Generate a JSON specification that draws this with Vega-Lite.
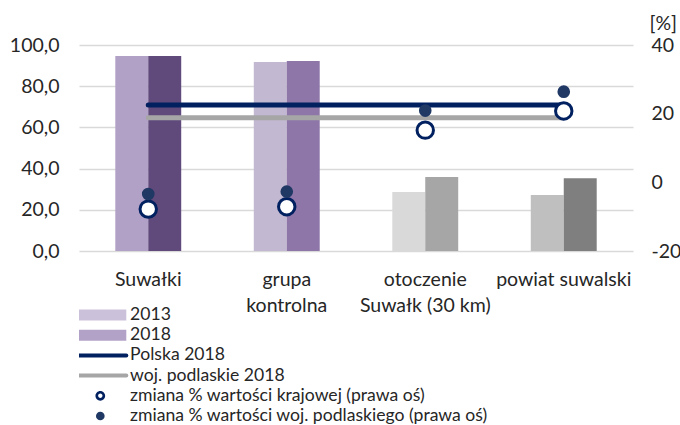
{
  "$schema": "https://vega.github.io/schema/vega-lite/v6.json",
  "width": 554,
  "height": 206,
  "autosize": {"type": "none"},
  "padding": {"left": 79, "top": 45, "right": 47, "bottom": 174},
  "background": "white",
  "config": {
    "view": {"stroke": null},
    "font": "Lato",
    "axis": {"labelFont": "Lato", "titleFont": "Lato", "labelColor": "#262626", "titleColor": "#262626"}
  },
  "datasets": {
    "slupki": [
      {"kategoria": "Suwałki", "rok": "2013", "seria": "Suwałki 2013", "wartosc": 94.7},
      {"kategoria": "Suwałki", "rok": "2018", "seria": "Suwałki 2018", "wartosc": 94.7},
      {"kategoria": "grupa kontrolna", "rok": "2013", "seria": "grupa kontrolna 2013", "wartosc": 91.7},
      {"kategoria": "grupa kontrolna", "rok": "2018", "seria": "grupa kontrolna 2018", "wartosc": 92.2},
      {"kategoria": "otoczenie Suwałk (30 km)", "rok": "2013", "seria": "otoczenie Suwałk (30 km) 2013", "wartosc": 28.6},
      {"kategoria": "otoczenie Suwałk (30 km)", "rok": "2018", "seria": "otoczenie Suwałk (30 km) 2018", "wartosc": 35.9},
      {"kategoria": "powiat suwalski", "rok": "2013", "seria": "powiat suwalski 2013", "wartosc": 27.2},
      {"kategoria": "powiat suwalski", "rok": "2018", "seria": "powiat suwalski 2018", "wartosc": 35.3}
    ],
    "linie": [
      {"kategoria": "Suwałki", "seria": "woj. podlaskie 2018", "wartosc": 64.7},
      {"kategoria": "grupa kontrolna", "seria": "woj. podlaskie 2018", "wartosc": 64.7},
      {"kategoria": "otoczenie Suwałk (30 km)", "seria": "woj. podlaskie 2018", "wartosc": 64.7},
      {"kategoria": "powiat suwalski", "seria": "woj. podlaskie 2018", "wartosc": 64.7},
      {"kategoria": "Suwałki", "seria": "Polska 2018", "wartosc": 70.9},
      {"kategoria": "grupa kontrolna", "seria": "Polska 2018", "wartosc": 70.9},
      {"kategoria": "otoczenie Suwałk (30 km)", "seria": "Polska 2018", "wartosc": 70.9},
      {"kategoria": "powiat suwalski", "seria": "Polska 2018", "wartosc": 70.9}
    ],
    "zmiany": [
      {"kategoria": "Suwałki", "seria": "zmiana % wartości krajowej (prawa oś)", "zmiana": -7.8},
      {"kategoria": "grupa kontrolna", "seria": "zmiana % wartości krajowej (prawa oś)", "zmiana": -7.1},
      {"kategoria": "otoczenie Suwałk (30 km)", "seria": "zmiana % wartości krajowej (prawa oś)", "zmiana": 15.2},
      {"kategoria": "powiat suwalski", "seria": "zmiana % wartości krajowej (prawa oś)", "zmiana": 20.8},
      {"kategoria": "Suwałki", "seria": "zmiana % wartości woj. podlaskiego (prawa oś)", "zmiana": -3.4},
      {"kategoria": "grupa kontrolna", "seria": "zmiana % wartości woj. podlaskiego (prawa oś)", "zmiana": -2.7},
      {"kategoria": "otoczenie Suwałk (30 km)", "seria": "zmiana % wartości woj. podlaskiego (prawa oś)", "zmiana": 20.9},
      {"kategoria": "powiat suwalski", "seria": "zmiana % wartości woj. podlaskiego (prawa oś)", "zmiana": 26.4}
    ]
  },
  "encoding": {
    "x": {
      "field": "kategoria",
      "type": "nominal",
      "sort": ["Suwałki", "grupa kontrolna", "otoczenie Suwałk (30 km)", "powiat suwalski"],
      "scale": {"paddingInner": 0.524, "paddingOuter": 0.262},
      "axis": {
        "title": null,
        "labelAngle": 0,
        "domain": false,
        "ticks": false,
        "labelFontSize": 19.5,
        "labelPadding": 19,
        "labelLineHeight": 26,
        "labelLimit": 300,
        "labelExpr": "datum.label == 'grupa kontrolna' ? ['grupa', 'kontrolna'] : datum.label == 'otoczenie Suwałk (30 km)' ? ['otoczenie', 'Suwałk (30 km)'] : datum.label"
      }
    },
    "color": {
      "field": "seria",
      "type": "nominal",
      "scale": {
        "domain": ["2013", "2018", "Polska 2018", "woj. podlaskie 2018", "zmiana % wartości krajowej (prawa oś)", "zmiana % wartości woj. podlaskiego (prawa oś)", "Suwałki 2013", "Suwałki 2018", "grupa kontrolna 2013", "grupa kontrolna 2018", "otoczenie Suwałk (30 km) 2013", "otoczenie Suwałk (30 km) 2018", "powiat suwalski 2013", "powiat suwalski 2018"],
        "range": ["#ccc1da", "#b3a2c7", "#002060", "#a6a6a6", "#002060", "#1f3864", "#b2a1c7", "#604a7b", "#c2b8d2", "#8e76a8", "#d9d9d9", "#a6a6a6", "#bfbfbf", "#7f7f7f"]
      },
      "legend": {
        "values": ["2013", "2018", "Polska 2018", "woj. podlaskie 2018", "zmiana % wartości krajowej (prawa oś)", "zmiana % wartości woj. podlaskiego (prawa oś)"],
        "title": null,
        "orient": "none",
        "legendX": 0,
        "legendY": 261,
        "padding": 0,
        "direction": "vertical",
        "labelFont": "Lato",
        "labelFontSize": 17.6,
        "labelColor": "#262626",
        "labelLimit": 500,
        "symbolSize": 100,
        "symbolOffset": 12.5,
        "labelOffset": 21,
        "clipHeight": 18,
        "rowPadding": 2.2,
        "symbolOpacity": 1,
        "encode": {
          "symbols": {
            "update": {
              "shape": {"signal": "datum.index < 2 ? 'M-5.2,-1.1H5.2V1.1H-5.2Z' : datum.index < 4 ? 'M-5.2,0H5.2' : datum.index == 4 ? 'M-0.97,0A0.97,0.97 0 1 0 0.97,0A0.97,0.97 0 1 0 -0.97,0ZM-0.44,0A0.44,0.44 0 1 1 0.44,0A0.44,0.44 0 1 1 -0.44,0Z' : 'circle'"},
              "size": {"signal": "datum.index == 5 ? 75 : 100"},
              "stroke": {"signal": "datum.index == 2 ? '#002060' : datum.index == 3 ? '#a6a6a6' : 'transparent'"},
              "strokeWidth": {"signal": "datum.index == 2 || datum.index == 3 ? 4 : 0"},
              "strokeCap": {"value": "round"},
              "opacity": {"value": 1}
            }
          }
        }
      }
    }
  },
  "layer": [
    {
      "encoding": {
        "y": {
          "type": "quantitative",
          "scale": {"domain": [0, 100], "nice": false, "zero": false}
        }
      },
      "layer": [
        {
          "data": {"name": "slupki"},
          "mark": {"type": "bar", "opacity": 1},
          "encoding": {
            "xOffset": {"field": "rok", "type": "nominal", "scale": {"paddingInner": 0, "paddingOuter": 0}},
            "y": {
              "field": "wartosc",
              "type": "quantitative",
              "axis": {
                "title": null,
                "orient": "left",
                "values": [0, 20, 40, 60, 80, 100],
                "domain": false,
                "ticks": false,
                "grid": true,
                "gridColor": "#d9d9d9",
                "gridWidth": 1.5,
                "labelFontSize": 19.5,
                "labelPadding": 20,
                "labelExpr": "replace(format(datum.value, '.1f'), '.', ',')"
              }
            }
          }
        },
        {
          "data": {"name": "linie"},
          "mark": {"type": "line", "strokeWidth": 5, "strokeCap": "round", "opacity": 1},
          "encoding": {
            "y": {"field": "wartosc", "type": "quantitative"}
          }
        }
      ]
    },
    {
      "encoding": {
        "y": {
          "type": "quantitative",
          "scale": {"domain": [-20, 40], "nice": false, "zero": false}
        }
      },
      "layer": [
        {
          "data": {"name": "zmiany"},
          "transform": [{"filter": "datum.seria == 'zmiana % wartości krajowej (prawa oś)'"}],
          "mark": {"type": "point", "filled": false, "fill": "white", "strokeWidth": 3, "size": 270, "opacity": 1},
          "encoding": {
            "y": {
              "field": "zmiana",
              "type": "quantitative",
              "axis": {
                "orient": "right",
                "values": [-20, 0, 20, 40],
                "domain": false,
                "ticks": false,
                "grid": false,
                "labelFontSize": 19.5,
                "labelPadding": 18,
                "labelAlign": "left",
                "labelExpr": "'' + datum.value",
                "title": "[%]",
                "titleAngle": 0,
                "titleAlign": "left",
                "titleBaseline": "middle",
                "titleFontWeight": "normal",
                "titleFontSize": 19.5,
                "titleX": 16,
                "titleY": -22
              }
            }
          }
        },
        {
          "data": {"name": "zmiany"},
          "transform": [{"filter": "datum.seria == 'zmiana % wartości woj. podlaskiego (prawa oś)'"}],
          "mark": {"type": "point", "filled": true, "size": 160, "opacity": 1},
          "encoding": {
            "y": {"field": "zmiana", "type": "quantitative"}
          }
        }
      ]
    }
  ],
  "resolve": {"scale": {"y": "independent"}}
}
